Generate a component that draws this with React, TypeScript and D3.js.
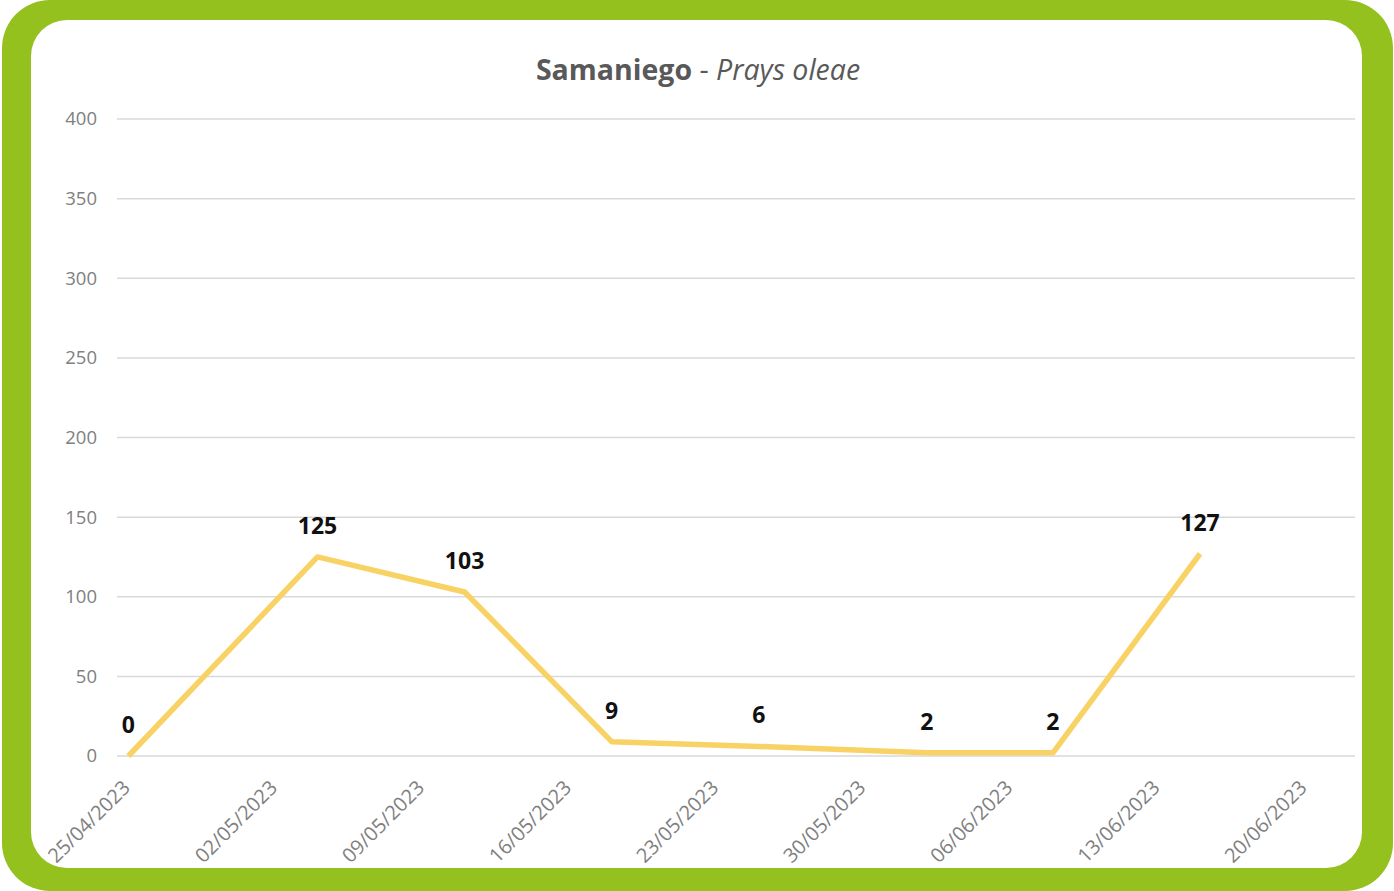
import React from "react";
import * as d3 from "d3";

const titleMain = "Samaniego";
const titleSpecies = "Prays oleae";
const sampleDates = ["25/04/2023", "04/05/2023", "11/05/2023", "18/05/2023", "25/05/2023", "02/06/2023", "08/06/2023", "15/06/2023"];
const captures = [0, 125, 103, 9, 6, 2, 2, 127];
const xTickLabels = ["25/04/2023", "02/05/2023", "09/05/2023", "16/05/2023", "23/05/2023", "30/05/2023", "06/06/2023", "13/06/2023", "20/06/2023"];
const yTicks = [0, 50, 100, 150, 200, 250, 300, 350, 400];

const W = 1394;
const H = 891;
const FONT = "'Open Sans', 'Noto Sans', sans-serif";

export default function App() {
  const parse = d3.timeParse("%d/%m/%Y");
  const start = parse(xTickLabels[0]) as Date;
  const xMin = d3.timeHour.offset(start, -12.5);
  const xMax = d3.timeHour.offset(start, 58.4 * 24);
  const x = d3.scaleTime().domain([xMin, xMax]).range([117, 1355]);
  const y = d3.scaleLinear().domain([0, 400]).range([756, 119]);

  const pts = sampleDates.map((d, i) => ({ date: parse(d) as Date, v: captures[i] }));
  const line = d3
    .line<{ date: Date; v: number }>()
    .x((d) => x(d.date))
    .y((d) => y(d.v));

  return (
    <svg
      width={W}
      height={H}
      style={{ position: "absolute", left: 0, top: 0, display: "block" }}
    >
      <rect x={0} y={0} width={W} height={H} fill="#ffffff" />
      <rect x={2} y={0} width={1391} height={H} rx={48} ry={48} fill="#95c11f" />
      <rect x={31} y={20} width={1331} height={848} rx={36} ry={36} fill="#ffffff" />

      <text x={698} y={80} textAnchor="middle" fontFamily={FONT} fontSize={28.5} fill="#595959">
        <tspan fontWeight="bold">{titleMain}</tspan>
        <tspan> - </tspan>
        <tspan fontStyle="italic">{titleSpecies}</tspan>
      </text>

      {yTicks.map((t) => (
        <g key={t}>
          <line x1={117} x2={1355} y1={y(t)} y2={y(t)} stroke="#d9d9d9" strokeWidth={1.5} />
          <text
            x={97}
            y={y(t)}
            dy="0.35em"
            textAnchor="end"
            fontFamily={FONT}
            fontSize={18.5}
            fill="#808080"
          >
            {t}
          </text>
        </g>
      ))}

      {xTickLabels.map((lab) => {
        const px = x(parse(lab) as Date) + 3;
        const py = 789;
        return (
          <text
            key={lab}
            x={px}
            y={py}
            transform={`rotate(-45, ${px}, ${py})`}
            textAnchor="end"
            fontFamily={FONT}
            fontSize={20}
            fill="#808080"
          >
            {lab}
          </text>
        );
      })}

      <path
        d={line(pts) || ""}
        fill="none"
        stroke="#f8d264"
        strokeWidth={5.5}
        strokeLinejoin="round"
        strokeLinecap="butt"
      />

      {pts.map((p, i) => (
        <text
          key={i}
          x={x(p.date)}
          y={y(p.v) - 23}
          textAnchor="middle"
          fontFamily={FONT}
          fontWeight="bold"
          fontSize={23}
          fill="#111111"
        >
          {p.v}
        </text>
      ))}
    </svg>
  );
}
